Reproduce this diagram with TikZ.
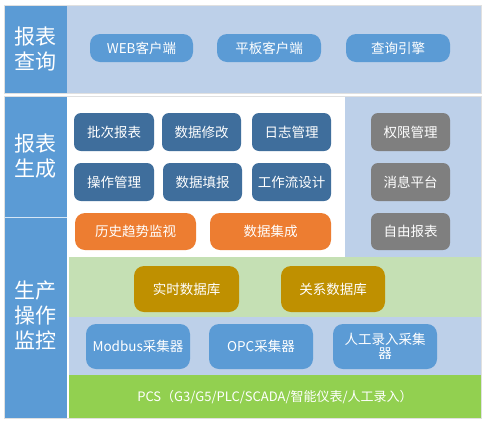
\documentclass[tikz,border=0pt]{standalone}
\usepackage{fontspec}
\setmainfont{Noto Sans CJK SC}
\usetikzlibrary{positioning}
\definecolor{colblue}{HTML}{5B9BD5}
\definecolor{collight}{HTML}{BDD0E9}
\definecolor{coldark}{HTML}{3F6E9C}
\definecolor{colgray}{HTML}{7F7F7F}
\definecolor{colorange}{HTML}{ED7D31}
\definecolor{colgold}{HTML}{BF9000}
\definecolor{colpale}{HTML}{C5E0B4}
\definecolor{colgreen}{HTML}{92D050}
\begin{document}
\begin{tikzpicture}[x=1pt,y=-1pt,
  btn/.style={rounded corners=7pt, text=white, font=\fontsize{13.5}{15}\selectfont, inner sep=0pt, align=center},
  pill/.style={btn, rounded corners=10pt},
  lbl/.style={text=white, font=\fontsize{21}{25}\selectfont, align=center, inner sep=0pt}]
\useasboundingbox (0,0) rectangle (485,421);
\fill[white] (0,0) rectangle (485,421);
% backgrounds
\fill[colblue] (4,5) rectangle (67,93);
\fill[collight] (67,5) rectangle (481,93);
\fill[colblue] (4,96) rectangle (67,418);
\draw[white!75!colblue, line width=0.6pt] (4,217) -- (67,217);
\fill[white] (67,96) rectangle (345,257);
\fill[collight] (345,96) rectangle (481,257);
\fill[colpale] (69,257) rectangle (481,317);
\fill[collight] (69,317) rectangle (481,375);
\fill[colgreen] (69,375) rectangle (481,418);
\draw[black!12, line width=0.5pt] (4,5) rectangle (481,93);
\draw[black!12, line width=0.5pt] (4,96) rectangle (481,418);
% labels
\node[lbl] (l1) at (36,49) {报表\\查询};
\node[lbl] (l2) at (36,156) {报表\\生成};
\node[lbl] (l3) at (36,315) {生产\\操作\\监控};
% top
\node[pill, fill=colblue, minimum width=103pt, minimum height=28pt] (web) at (141.5,48) {WEB客户端};
\node[pill, fill=colblue, minimum width=104pt, minimum height=28pt] (pad) at (269,48) {平板客户端};
\node[pill, fill=colblue, minimum width=104pt, minimum height=28pt] (eng) at (398,48) {查询引擎};
% report generation
\node[btn, fill=coldark, minimum width=80pt, minimum height=38pt] (b1) at (114,132) {批次报表};
\node[btn, fill=coldark, minimum width=79pt, minimum height=38pt] (b2) at (201.5,132) {数据修改};
\node[btn, fill=coldark, minimum width=79pt, minimum height=38pt] (b3) at (291.5,132) {日志管理};
\node[btn, fill=coldark, minimum width=80pt, minimum height=38pt] (b4) at (114,182) {操作管理};
\node[btn, fill=coldark, minimum width=79pt, minimum height=38pt] (b5) at (202.5,182) {数据填报};
\node[btn, fill=coldark, minimum width=79pt, minimum height=38pt] (b6) at (291.5,182) {工作流设计};
\node[btn, fill=colorange, rounded corners=10pt, minimum width=121pt, minimum height=37pt] (o1) at (135.5,231.5) {历史趋势监视};
\node[btn, fill=colorange, rounded corners=10pt, minimum width=121pt, minimum height=37pt] (o2) at (270.5,231.5) {数据集成};
\node[btn, fill=colgray, minimum width=79pt, minimum height=38pt] (g1) at (410.5,132) {权限管理};
\node[btn, fill=colgray, minimum width=79pt, minimum height=38pt] (g2) at (410.5,182) {消息平台};
\node[btn, fill=colgray, minimum width=79pt, minimum height=37pt] (g3) at (410.5,231.5) {自由报表};
% databases
\node[btn, fill=colgold, rounded corners=10pt, minimum width=105pt, minimum height=46pt] (d1) at (186.5,289) {实时数据库};
\node[btn, fill=colgold, rounded corners=10pt, minimum width=104pt, minimum height=46pt] (d2) at (333,289) {关系数据库};
% collectors
\node[btn, fill=colblue, rounded corners=10pt, minimum width=104pt, minimum height=45pt] (c1) at (138,346.5) {Modbus采集器};
\node[btn, fill=colblue, rounded corners=10pt, minimum width=104pt, minimum height=45pt] (c2) at (261,346.5) {OPC采集器};
\node[btn, fill=colblue, rounded corners=10pt, minimum width=104pt, minimum height=45pt, font=\fontsize{13.5}{14}\selectfont] (c3) at (385,346.5) {人工录入采集\\器};
% PCS
\node[text=white, font=\fontsize{13}{15}\selectfont, inner sep=0pt] (pcs) at (275,397) {PCS（G3/G5/PLC/SCADA/智能仪表/人工录入）};
\end{tikzpicture}
\end{document}
